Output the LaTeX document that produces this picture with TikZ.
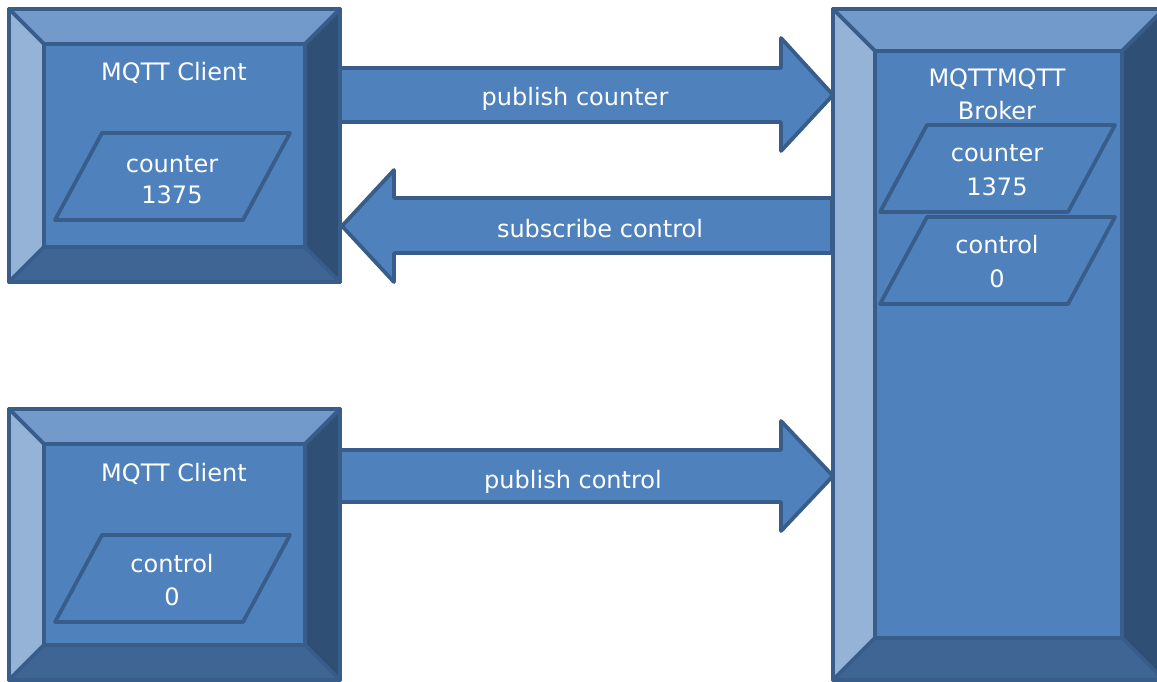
\documentclass[tikz,border=0pt]{standalone}
\usepackage{fontspec}
\setmainfont{DejaVu Sans}
\definecolor{facecol}{HTML}{4F81BD}
\definecolor{topcol}{HTML}{729ACB}
\definecolor{leftcol}{HTML}{95B3D7}
\definecolor{rightcol}{HTML}{2F4F75}
\definecolor{bottomcol}{HTML}{3F6594}
\definecolor{edgecol}{HTML}{385D8A}
\tikzset{
  outline/.style={draw=edgecol, line width=3.8pt, line join=round},
  face/.style={outline, fill=facecol, inner sep=0pt, rectangle},
  bvtop/.style={outline, fill=topcol},
  bvleft/.style={outline, fill=leftcol},
  bvright/.style={outline, fill=rightcol},
  bvbottom/.style={outline, fill=bottomcol},
  blockarrow/.style={outline, fill=facecol},
  varbox/.style={outline, fill=facecol},
  lbl/.style={text=white, anchor=base, inner sep=0pt, font=\fontsize{24}{33}\selectfont},
}
% bevelled block: name, x1, y1, x2, y2, bevel depth
\newcommand\bevelblock[6]{%
  \node[face, minimum width={(#4-#2-2*#6)*1pt}, minimum height={(#5-#3-2*#6)*1pt}]
    (#1) at ({(#2+#4)/2},{(#3+#5)/2}) {};
  \path[bvtop] (#2,#3) -- (#4,#3) -- (#4-#6,#3+#6) -- (#2+#6,#3+#6) -- cycle;
  \path[bvleft] (#2,#3) -- (#2+#6,#3+#6) -- (#2+#6,#5-#6) -- (#2,#5) -- cycle;
  \path[bvright] (#4,#3) -- (#4,#5) -- (#4-#6,#5-#6) -- (#4-#6,#3+#6) -- cycle;
  \path[bvbottom] (#2,#5) -- (#2+#6,#5-#6) -- (#4-#6,#5-#6) -- (#4,#5) -- cycle;
  \draw[outline] (#2,#3) rectangle (#4,#5);
}
% slanted variable box: left x of top edge, top y
\newcommand\varshape[2]{%
  \path[varbox] (#1,#2) -- (#1+188,#2) -- (#1+141,#2+87) -- (#1-47,#2+87) -- cycle;
}
\begin{document}
\begin{tikzpicture}[x=1pt, y=-1pt]
\useasboundingbox (0,0) rectangle (1157,682);
\clip (0,0) rectangle (1157,682);

% message arrows
\path[blockarrow] (340,68) -- (781,68) -- (781,38) -- (833,95) -- (781,151) -- (781,122) -- (340,122) -- cycle;
\path[blockarrow] (832,198) -- (394,198) -- (394,170) -- (342,226) -- (394,282) -- (394,253) -- (832,253) -- cycle;
\path[blockarrow] (340,450) -- (781,450) -- (781,421) -- (833,476) -- (781,531) -- (781,502) -- (340,502) -- cycle;
\node[lbl] (pubcnt) at (575,106) {publish counter};
\node[lbl] (subctl) at (600,237) {subscribe control};
\node[lbl] (pubctl) at (573,488) {publish control};

% first client
\bevelblock{clientA}{9}{9}{340}{282}{35}
\node[lbl] (clientAname) at (174,81) {MQTT Client};
\varshape{102}{133}
\node[lbl] (clientAvar) at (172,172) {counter};
\node[lbl] (clientAval) at (172,204) {1375};

% second client
\bevelblock{clientB}{9}{409}{340}{680}{35}
\node[lbl] (clientBname) at (174,481) {MQTT Client};
\varshape{102}{535}
\node[lbl] (clientBvar) at (172,572) {control};
\node[lbl] (clientBval) at (172,605) {0};

% broker
\bevelblock{broker}{833}{9}{1164}{680}{42}
\node[lbl] (brokername) at (997,87) {MQTTMQTT};
\node[lbl] (brokername2) at (997,120) {Broker};
\varshape{927}{125}
\node[lbl] (brokerAvar) at (997,162) {counter};
\node[lbl] (brokerAval) at (997,195) {1375};
\varshape{927}{217}
\node[lbl] (brokerBvar) at (997,253) {control};
\node[lbl] (brokerBval) at (997,287) {0};
\end{tikzpicture}
\end{document}
